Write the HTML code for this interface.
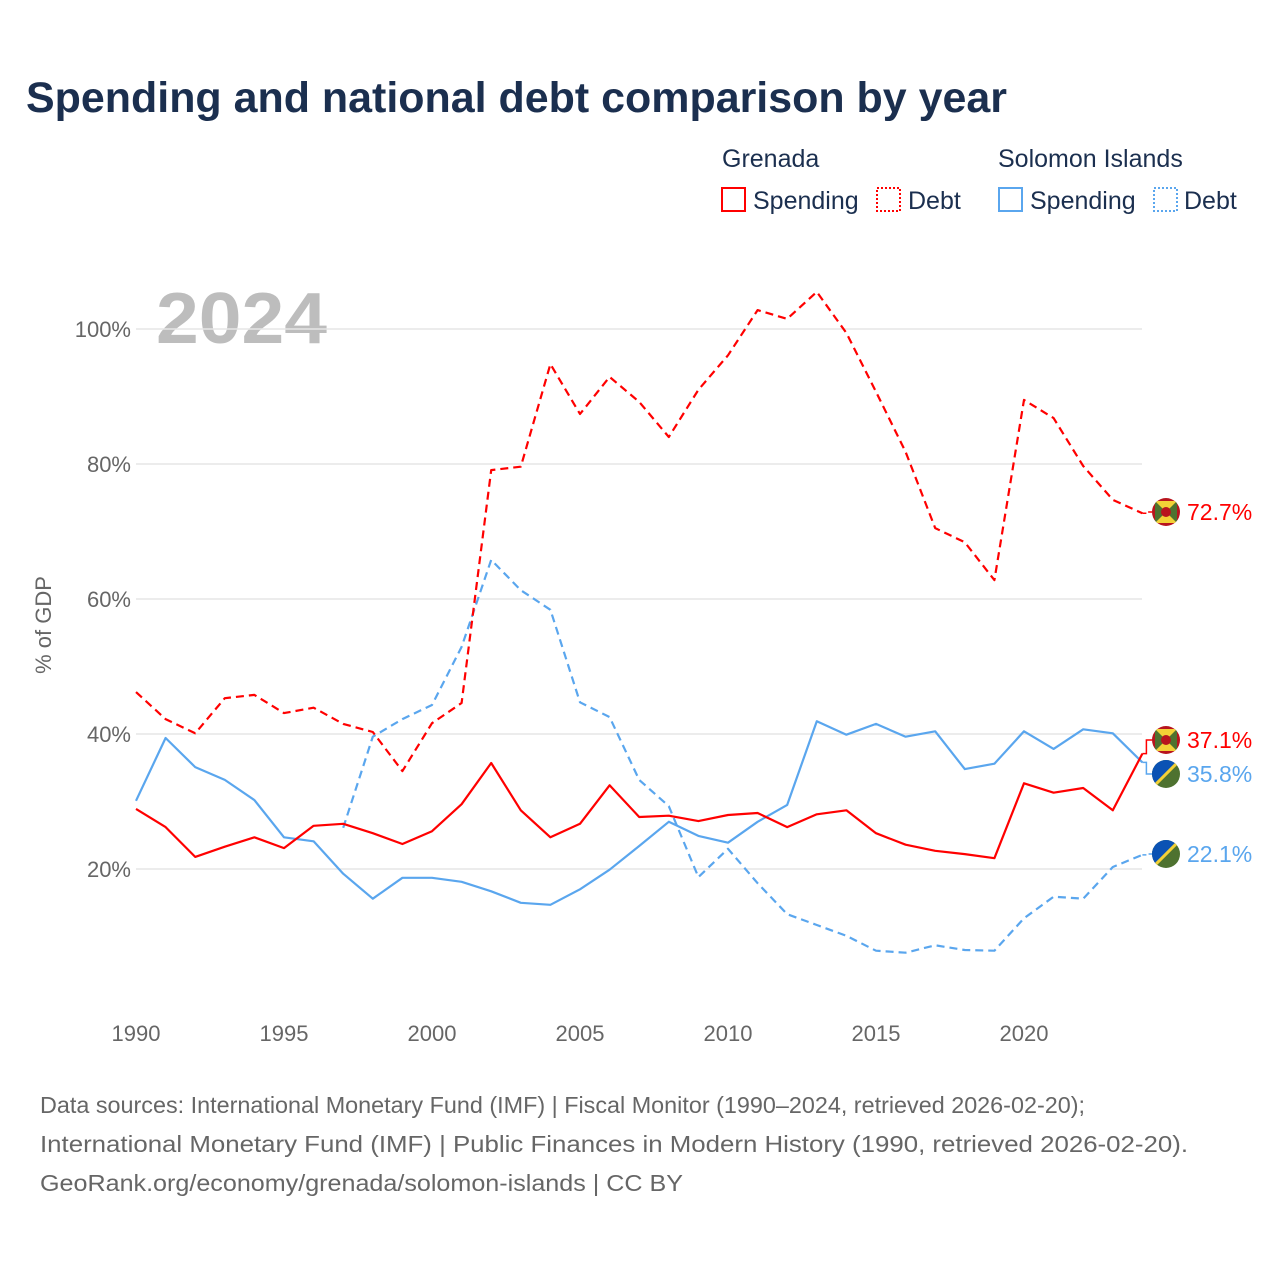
<!DOCTYPE html>
<html><head><meta charset="utf-8"><style>
body{margin:0;background:#fff;}
svg{display:block;font-family:"Liberation Sans",sans-serif;}
</style></head><body>
<svg id="chart" width="1280" height="1280" viewBox="0 0 1280 1280">
<text x="26" y="112" font-size="43" font-weight="bold" fill="#1b2f4f" textLength="981" lengthAdjust="spacingAndGlyphs">Spending and national debt comparison by year</text>
<g font-size="25" fill="#1b2f4f">
<text x="722" y="167">Grenada</text>
<text x="998" y="167">Solomon Islands</text>
<g><rect x="722" y="188" width="23" height="23" fill="none" stroke="#f00" stroke-width="2"/><text x="753" y="209">Spending</text></g>
<g><rect x="877" y="188" width="23" height="23" fill="none" stroke="#f00" stroke-width="2" stroke-dasharray="2,2"/><text x="908" y="209">Debt</text></g>
<g><rect x="999" y="188" width="23" height="23" fill="none" stroke="#5aa6ee" stroke-width="2"/><text x="1030" y="209">Spending</text></g>
<g><rect x="1154" y="188" width="23" height="23" fill="none" stroke="#5aa6ee" stroke-width="2" stroke-dasharray="2,2"/><text x="1184" y="209">Debt</text></g>
</g>
<text x="156" y="343" font-size="72" font-weight="bold" fill="#bdbdbd" textLength="171" lengthAdjust="spacingAndGlyphs">2024</text>
<text transform="translate(51,625) rotate(-90)" text-anchor="middle" font-size="22" fill="#666">% of GDP</text>
<g id="grid"></g><g id="xt"></g><g id="lines"></g><g id="labels"></g>
<g font-size="23" fill="#666">
<text x="40" y="1113" textLength="1045" lengthAdjust="spacingAndGlyphs">Data sources: International Monetary Fund (IMF) | Fiscal Monitor (1990–2024, retrieved 2026-02-20);</text>
<text x="40" y="1152" textLength="1148" lengthAdjust="spacingAndGlyphs">International Monetary Fund (IMF) | Public Finances in Modern History (1990, retrieved 2026-02-20).</text>
<text x="40" y="1191" textLength="643" lengthAdjust="spacingAndGlyphs">GeoRank.org/economy/grenada/solomon-islands | CC BY</text>
</g>
</svg>
<script>
const years=[];for(let y=1990;y<=2024;y++)years.push(y);
const yTicks=[20,40,60,80,100];
const xTicks=[1990,1995,2000,2005,2010,2015,2020];
const grdSpending=[28.9,26.2,21.8,23.3,24.7,23.1,26.4,26.7,25.3,23.7,25.6,29.6,35.7,28.7,24.7,26.7,32.4,27.7,27.9,27.1,28.0,28.3,26.2,28.1,28.7,25.3,23.6,22.7,22.2,21.6,32.7,31.3,32.0,28.7,37.1];
const grdDebt=[46.2,42.2,40.1,45.3,45.8,43.1,43.9,41.5,40.3,34.5,41.6,44.6,79.1,79.6,94.8,87.4,92.9,89.2,84.0,91.0,96.1,102.8,101.5,105.5,99.4,90.7,81.8,70.5,68.4,62.8,89.5,86.8,79.7,74.7,72.7];
const slbSpending=[30.1,39.4,35.1,33.2,30.2,24.7,24.1,19.3,15.6,18.7,18.7,18.1,16.7,15.0,14.7,17.0,19.9,23.4,27.0,24.9,23.9,27.0,29.5,41.9,39.9,41.5,39.6,40.4,34.8,35.6,40.4,37.8,40.7,40.1,35.8];
const slbDebt=[null,null,null,null,null,null,null,26.1,39.6,42.2,44.3,52.9,65.8,61.3,58.4,44.7,42.5,33.2,29.3,18.8,23.0,17.9,13.3,11.7,10.1,7.9,7.6,8.7,8.0,7.9,12.7,15.9,15.6,20.3,22.1];
const NS="http://www.w3.org/2000/svg";
const X=y=>136+(y-1990)*29.6;
const Y=v=>1004-v*6.75;
function mk(t,a,p){const e=document.createElementNS(NS,t);for(const k in a)e.setAttribute(k,a[k]);p.appendChild(e);return e;}
const grid=document.getElementById('grid');
yTicks.forEach(v=>{
 const l=mk('line',{x1:136,x2:1142,y1:Y(v),y2:Y(v),stroke:'#e6e6e6','stroke-width':1.5},grid);
 
 
 const t=mk('text',{x:131,y:Y(v)+8,'text-anchor':'end','font-size':22,fill:'#666'},grid);
 t.textContent=v+'%';
 
 
});
const xt=document.getElementById('xt');
xTicks.forEach(y=>{
 const t=mk('text',{x:X(y),y:1041,'text-anchor':'middle','font-size':22,fill:'#666'},xt);
 t.textContent=y;
 
 
});
const lines=document.getElementById('lines');
function draw(arr,color,dash,name){
 let d='';let pen=false;
 arr.forEach((v,i)=>{if(v==null){pen=false;return;}d+=(pen?'L':'M')+X(years[i]).toFixed(1)+','+Y(v).toFixed(1);pen=true;});
 const p=mk('path',{d:d,fill:'none',stroke:color,'stroke-width':2.2,'stroke-linejoin':'round'},lines);
 if(dash)p.setAttribute('stroke-dasharray','8,5');
 
 
}
draw(slbDebt,'#5aa6ee',true,'line-solomon-debt');
draw(slbSpending,'#5aa6ee',false,'line-solomon-spending');
draw(grdDebt,'#f00',true,'line-grenada-debt');
draw(grdSpending,'#f00',false,'line-grenada-spending');
const labels=document.getElementById('labels');
function flag(cx,cy,kind,g){
 const clip=mk('clipPath',{id:'c'+cy},g);
 mk('circle',{cx:cx,cy:cy,r:14},clip);
 const f=mk('g',{'clip-path':'url(#c'+cy+')'},g);
 if(kind==='grd'){
  mk('rect',{x:cx-14,y:cy-14,width:28,height:28,fill:'#b8141e'},f);
  mk('rect',{x:cx-11,y:cy-11,width:22,height:22,fill:'#4e7230'},f);
  mk('path',{d:`M${cx-11},${cy-11}L${cx+11},${cy-11}L${cx},${cy}Z M${cx-11},${cy+11}L${cx+11},${cy+11}L${cx},${cy}Z`,fill:'#f3d137'},f);
  mk('circle',{cx:cx,cy:cy,r:5,fill:'#b8141e'},f);
 } else {
  mk('rect',{x:cx-14,y:cy-14,width:28,height:28,fill:'#4e7230'},f);
  mk('path',{d:`M${cx-14},${cy-14}L${cx+14},${cy-14}L${cx-14},${cy+14}Z`,fill:'#0a52b4'},f);
  mk('line',{x1:cx-14,y1:cy+14,x2:cx+14,y2:cy-14,stroke:'#f3d137','stroke-width':3},f);
 }
}
function label(val,ly,color,kind,dash,name){
 const g=mk('g',{},labels);
 
 
 const x0=X(2024),y0=Y(val);
 const p=mk('path',{d:`M${x0},${y0}L${x0+4},${y0}L${x0+4},${ly}L${1152},${ly}`,fill:'none',stroke:color,'stroke-width':1.5},g);
 if(dash)p.setAttribute('stroke-dasharray','4,3');
 flag(1166,ly,kind,g);
 const t=mk('text',{x:1187,y:ly+8,'font-size':23,fill:color},g);
 t.textContent=val.toFixed(1)+'%';
}
label(grdDebt[34],512,'#f00','grd',true,'end-label-grenada-debt');
label(grdSpending[34],740,'#f00','grd',false,'end-label-grenada-spending');
label(slbSpending[34],774,'#5aa6ee','slb',false,'end-label-solomon-spending');
label(slbDebt[34],854,'#5aa6ee','slb',true,'end-label-solomon-debt');
</script>
</body></html>
